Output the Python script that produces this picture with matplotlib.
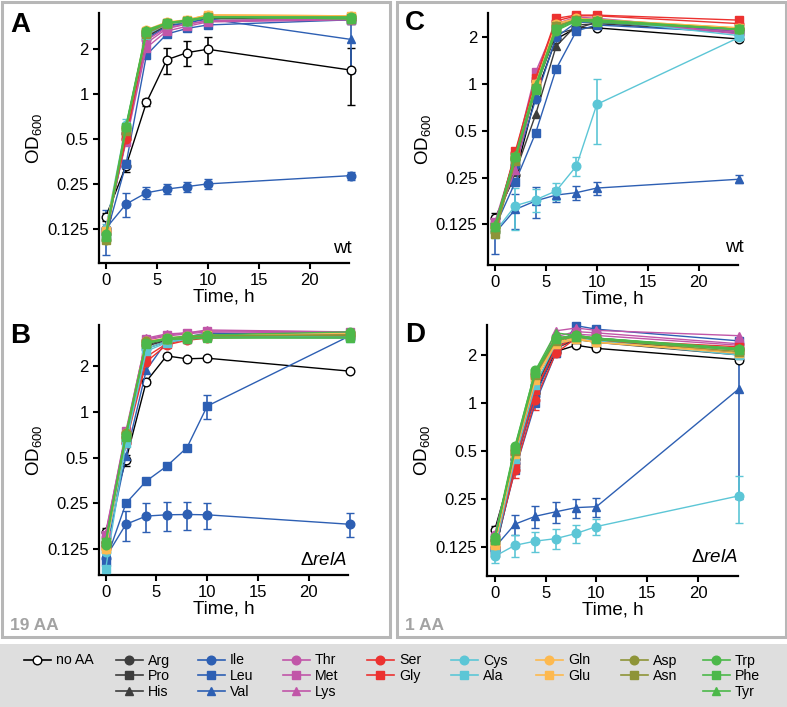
import matplotlib
matplotlib.use("Agg")
import matplotlib.pyplot as plt
from matplotlib.lines import Line2D
from matplotlib.patches import Rectangle
import matplotlib.ticker as mticker

plt.rcParams['font.family'] = ['Liberation Sans', 'DejaVu Sans']
plt.rcParams['mathtext.fontset'] = 'custom'
plt.rcParams['mathtext.rm'] = 'Liberation Sans'
plt.rcParams['mathtext.it'] = 'Liberation Sans:italic'
plt.rcParams['mathtext.bf'] = 'Liberation Sans:bold'

# ---------------- data ----------------
times = [0, 2, 4, 6, 8, 10, 24]
series_names = ["no AA", "Arg", "Pro", "His", "Ile", "Leu", "Val", "Thr", "Met", "Lys",
                "Ser", "Gly", "Cys", "Ala", "Gln", "Glu", "Asp", "Asn", "Trp", "Phe", "Tyr"]
yticks = [0.125, 0.25, 0.5, 1, 2]
ytick_labels = ["0.125", "0.25", "0.5", "1", "2"]
xticks = [0, 5, 10, 15, 20]

# Panel A: wt, 19 AA
A_values = {
    "no AA": [0.15, 0.33, 0.88, 1.70, 1.90, 2.00, 1.45],
    "Arg": [0.12, 0.55, 2.55, 2.95, 3.05, 3.25, 3.20],
    "Pro": [0.12, 0.52, 2.45, 2.90, 3.05, 3.20, 3.20],
    "His": [0.12, 0.50, 2.40, 2.90, 3.05, 3.25, 3.15],
    "Ile": [0.125, 0.183, 0.218, 0.231, 0.24, 0.25, 0.284],
    "Leu": [0.11, 0.34, 1.83, 2.53, 2.76, 2.91, 3.15],
    "Val": [0.115, 0.50, 2.35, 2.85, 3.0, 3.2, 2.33],
    "Thr": [0.12, 0.55, 2.3, 2.8, 2.95, 3.1, 3.2],
    "Met": [0.12, 0.48, 2.05, 2.65, 2.85, 3.05, 3.15],
    "Lys": [0.12, 0.50, 2.2, 2.75, 2.95, 3.1, 3.2],
    "Ser": [0.125, 0.50, 2.5, 2.95, 3.1, 3.35, 3.3],
    "Gly": [0.12, 0.52, 2.6, 3.0, 3.1, 3.35, 3.3],
    "Cys": [0.125, 0.62, 2.55, 2.95, 3.1, 3.35, 3.25],
    "Ala": [0.12, 0.58, 2.5, 2.95, 3.05, 3.3, 3.2],
    "Gln": [0.12, 0.60, 2.7, 3.05, 3.15, 3.4, 3.35],
    "Glu": [0.12, 0.58, 2.65, 3.0, 3.15, 3.4, 3.35],
    "Asp": [0.105, 0.58, 2.6, 3.0, 3.1, 3.3, 3.2],
    "Asn": [0.105, 0.57, 2.55, 2.95, 3.1, 3.3, 3.2],
    "Trp": [0.115, 0.60, 2.65, 3.0, 3.1, 3.3, 3.3],
    "Phe": [0.11, 0.60, 2.6, 3.0, 3.1, 3.25, 3.25],
    "Tyr": [0.115, 0.62, 2.7, 3.0, 3.15, 3.3, 3.2],
}
A_errors = {
    "no AA": [0.01, 0.03, 0.05, 0.34, 0.36, 0.41, 0.60],
    "Ile": [0.042, 0.034, 0.02, 0.017, 0.018, 0.02, 0.018],
    "Val": [0.01, 0.02, 0.05, 0.05, 0.05, 0.05, 0.95],
    "Cys": [0.01, 0.06, 0.05, 0.05, 0.05, 0.05, 0.05],
}

# Panel B: relA, 19 AA
B_values = {
    "no AA": [0.162, 0.48, 1.58, 2.33, 2.23, 2.25, 1.85],
    "Arg": [0.14, 0.68, 2.75, 3.0, 3.1, 3.25, 3.2],
    "Pro": [0.13, 0.65, 2.7, 2.95, 3.1, 3.2, 3.15],
    "His": [0.13, 0.62, 2.6, 2.9, 3.05, 3.15, 3.1],
    "Ile": [0.11, 0.182, 0.206, 0.21, 0.211, 0.21, 0.182],
    "Leu": [0.103, 0.25, 0.35, 0.438, 0.58, 1.09, 3.15],
    "Val": [0.115, 0.51, 1.88, 2.9, 3.1, 3.3, 3.15],
    "Thr": [0.15, 0.72, 2.95, 3.15, 3.25, 3.35, 3.3],
    "Met": [0.155, 0.75, 3.0, 3.2, 3.3, 3.4, 3.35],
    "Lys": [0.16, 0.72, 3.05, 3.25, 3.3, 3.45, 3.35],
    "Ser": [0.13, 0.62, 2.13, 2.75, 2.95, 3.05, 3.15],
    "Gly": [0.13, 0.65, 2.3, 2.8, 3.0, 3.1, 3.2],
    "Cys": [0.12, 0.65, 2.6, 2.9, 3.05, 3.15, 3.1],
    "Ala": [0.092, 0.62, 2.5, 2.85, 3.0, 3.1, 3.05],
    "Gln": [0.125, 0.72, 2.9, 3.05, 3.15, 3.2, 3.25],
    "Glu": [0.125, 0.70, 2.85, 3.0, 3.1, 3.2, 3.25],
    "Asp": [0.14, 0.72, 2.9, 3.0, 3.1, 3.15, 3.2],
    "Asn": [0.14, 0.70, 2.85, 3.0, 3.05, 3.15, 3.2],
    "Trp": [0.132, 0.70, 2.85, 3.05, 3.15, 3.2, 3.35],
    "Phe": [0.14, 0.68, 2.8, 3.0, 3.05, 3.1, 3.1],
    "Tyr": [0.14, 0.72, 2.85, 3.0, 3.0, 3.05, 3.05],
}
B_errors = {
    "no AA": [0.01, 0.04, 0.05, 0.03, 0.03, 0.03, 0.03],
    "Ile": [0.005, 0.04, 0.045, 0.045, 0.045, 0.04, 0.033],
    "Leu": [0.005, 0.01, 0.01, 0.01, 0.02, 0.2, 0.05],
}

# Panel C: wt, 1 AA
C_values = {
    "no AA": [0.137, 0.26, 0.85, 1.95, 2.3, 2.3, 1.95],
    "Arg": [0.125, 0.33, 1.05, 2.3, 2.6, 2.6, 2.25],
    "Pro": [0.125, 0.30, 0.95, 2.1, 2.28, 2.5, 2.2],
    "His": [0.13, 0.27, 0.64, 1.75, 2.4, 2.45, 2.15],
    "Ile": [0.125, 0.30, 0.8, 2.0, 2.5, 2.5, 2.2],
    "Leu": [0.12, 0.235, 0.487, 1.25, 2.2, 2.4, 2.15],
    "Val": [0.11, 0.156, 0.177, 0.193, 0.2, 0.214, 0.244],
    "Thr": [0.125, 0.34, 1.1, 2.4, 2.65, 2.6, 2.1],
    "Met": [0.13, 0.35, 1.2, 2.45, 2.7, 2.65, 2.2],
    "Lys": [0.125, 0.28, 1.0, 2.35, 2.6, 2.55, 2.15],
    "Ser": [0.12, 0.36, 1.05, 2.55, 2.75, 2.75, 2.45],
    "Gly": [0.12, 0.37, 1.1, 2.65, 2.78, 2.78, 2.58],
    "Cys": [0.112, 0.165, 0.18, 0.205, 0.297, 0.74, 2.0],
    "Ala": [0.12, 0.33, 1.0, 2.4, 2.6, 2.6, 2.05],
    "Gln": [0.12, 0.34, 1.0, 2.45, 2.65, 2.6, 2.3],
    "Glu": [0.12, 0.34, 1.0, 2.4, 2.6, 2.6, 2.3],
    "Asp": [0.112, 0.33, 0.95, 2.35, 2.6, 2.55, 2.25],
    "Asn": [0.108, 0.32, 0.95, 2.35, 2.6, 2.55, 2.25],
    "Trp": [0.12, 0.34, 0.95, 2.2, 2.55, 2.55, 2.25],
    "Phe": [0.12, 0.34, 0.92, 2.25, 2.55, 2.5, 2.25],
    "Tyr": [0.125, 0.35, 1.0, 2.3, 2.6, 2.6, 2.25],
}
C_errors = {
    "no AA": [0.01, 0.02, 0.05, 0.05, 0.05, 0.05, 0.05],
    "Val": [0.03, 0.04, 0.04, 0.02, 0.02, 0.02, 0.015],
    "Cys": [0.01, 0.05, 0.03, 0.025, 0.04, 0.33, 0.06],
}

# Panel D: relA, 1 AA
D_values = {
    "no AA": [0.16, 0.45, 1.15, 2.1, 2.3, 2.2, 1.87],
    "Arg": [0.14, 0.48, 1.3, 2.3, 2.55, 2.5, 2.05],
    "Pro": [0.115, 0.40, 1.2, 2.2, 2.5, 2.4, 2.0],
    "His": [0.13, 0.42, 1.25, 2.25, 2.5, 2.45, 2.05],
    "Ile": [0.12, 0.42, 1.1, 2.2, 2.6, 2.55, 2.15],
    "Leu": [0.12, 0.38, 1.0, 2.05, 3.05, 2.9, 2.45],
    "Val": [0.125, 0.175, 0.196, 0.209, 0.222, 0.225, 1.23],
    "Thr": [0.15, 0.50, 1.5, 2.6, 2.8, 2.75, 2.35],
    "Met": [0.14, 0.48, 1.45, 2.5, 2.7, 2.65, 2.3],
    "Lys": [0.14, 0.47, 1.4, 2.83, 2.95, 2.85, 2.64],
    "Ser": [0.125, 0.38, 1.05, 2.05, 2.55, 2.45, 2.2],
    "Gly": [0.13, 0.42, 1.2, 2.2, 2.6, 2.5, 2.25],
    "Cys": [0.11, 0.129, 0.137, 0.142, 0.153, 0.169, 0.263],
    "Ala": [0.12, 0.45, 1.3, 2.35, 2.55, 2.45, 2.0],
    "Gln": [0.13, 0.50, 1.45, 2.4, 2.55, 2.4, 2.1],
    "Glu": [0.13, 0.48, 1.4, 2.35, 2.5, 2.4, 2.05],
    "Asp": [0.14, 0.52, 1.55, 2.5, 2.65, 2.55, 2.15],
    "Asn": [0.14, 0.50, 1.5, 2.45, 2.6, 2.5, 2.1],
    "Trp": [0.145, 0.54, 1.6, 2.57, 2.65, 2.55, 2.18],
    "Phe": [0.14, 0.52, 1.55, 2.5, 2.6, 2.5, 2.15],
    "Tyr": [0.14, 0.53, 1.6, 2.75, 2.65, 2.55, 2.2],
}
D_errors = {
    "no AA": [0.01, 0.03, 0.1, 0.05, 0.05, 0.05, 0.05],
    "Val": [0.01, 0.025, 0.03, 0.03, 0.03, 0.03, 0.98],
    "Ser": [0.005, 0.04, 0.15, 0.12, 0.05, 0.05, 0.05],
    "Cys": [0.01, 0.02, 0.02, 0.02, 0.02, 0.02, 0.085],
}

# ---------------- styles ----------------
C_GRAY = '#3d3d3d'
C_BLUE = '#2d5fb3'
C_MAG = '#c156a8'
C_RED = '#ec3230'
C_CYAN = '#5cc6d6'
C_ORANGE = '#fdb94f'
C_OLIVE = '#8e9438'
C_GREEN = '#4cb84a'
styles = {
    "no AA": ('black', 'o'),
    "Arg": (C_GRAY, 'o'), "Pro": (C_GRAY, 's'), "His": (C_GRAY, '^'),
    "Ile": (C_BLUE, 'o'), "Leu": (C_BLUE, 's'), "Val": (C_BLUE, '^'),
    "Thr": (C_MAG, 'o'), "Met": (C_MAG, 's'), "Lys": (C_MAG, '^'),
    "Ser": (C_RED, 'o'), "Gly": (C_RED, 's'),
    "Cys": (C_CYAN, 'o'), "Ala": (C_CYAN, 's'),
    "Gln": (C_ORANGE, 'o'), "Glu": (C_ORANGE, 's'),
    "Asp": (C_OLIVE, 'o'), "Asn": (C_OLIVE, 's'),
    "Trp": (C_GREEN, 'o'), "Phe": (C_GREEN, 's'), "Tyr": (C_GREEN, '^'),
}
MS = 6.2
LW = 1.0

W, H = 787, 707
fig = plt.figure(figsize=(W / 100, H / 100), dpi=100)


def px_rect(x0, y0, x1, y1):
    return [x0 / W, 1 - y1 / H, (x1 - x0) / W, (y1 - y0) / H]


# background boxes
for (x0, y0, x1, y1) in [(1.5, 1.5, 389.5, 637), (396.5, 1.5, 785.5, 637)]:
    r = px_rect(x0, y0, x1, y1)
    fig.patches.append(Rectangle((r[0], r[1]), r[2], r[3], transform=fig.transFigure,
                                 fill=False, ec='#b7b7b7', lw=2.2, zorder=0))
r = px_rect(0, 644, 787, 707)
fig.patches.append(Rectangle((r[0], r[1]), r[2], r[3], transform=fig.transFigure,
                             fc='#dedede', ec='none', zorder=0))

panels = [
    ("A", A_values, A_errors, (99, 13, 349, 263), (0.0737, 3.5), (-0.65, 23.85), "wt", (1.01, 0.04)),
    ("B", B_values, B_errors, (99, 325, 348, 575), (0.0844, 3.72), (-0.65, 23.85), r"$\Delta\mathit{relA}$", (0.995, 0.04)),
    ("C", C_values, C_errors, (487.7, 13.3, 738.3, 265), (0.0684, 2.855), (-0.72, 23.9), "wt", (1.02, 0.053)),
    ("D", D_values, D_errors, (487.3, 325, 738, 576), (0.0829, 3.08), (-0.72, 23.9), r"$\Delta\mathit{relA}$", (1.0, 0.057)),
]

for letter, vals, errs, box, ylim, xlim, strain, spos in panels:
    ax = fig.add_axes(px_rect(*box))
    ax.set_yscale('log', base=2)
    for name in series_names:
        col, mk = styles[name]
        mfc = 'white' if name == "no AA" else col
        e = errs.get(name)
        ax.errorbar(times, vals[name], yerr=e, color=col, marker=mk, ms=MS,
                    mfc=mfc, mec=col, mew=1.0, lw=LW, elinewidth=1.2,
                    capsize=3.2, capthick=1.2, clip_on=False, zorder=3)
    ax.set_ylim(*ylim)
    ax.set_xlim(*xlim)
    ax.set_yticks(yticks)
    ax.set_yticklabels(ytick_labels)
    ax.yaxis.set_minor_locator(mticker.NullLocator())
    ax.set_xticks(xticks)
    ax.set_xticklabels([str(v) for v in xticks])
    for s in ['top', 'right']:
        ax.spines[s].set_visible(False)
    for s in ['left', 'bottom']:
        ax.spines[s].set_linewidth(1.6)
    ax.tick_params(direction='out', length=4.5, width=1.5, labelsize=12, pad=3)
    ax.set_xlabel("Time, h", fontsize=13.5, labelpad=0)
    ax.set_ylabel(r"$\mathregular{OD_{600}}$", fontsize=13.5, labelpad=2)
    ax.text(spos[0], spos[1], strain, transform=ax.transAxes, ha='right',
            va='baseline', fontsize=13.5)

# panel letters
for letter, x, y in [("A", 10, 32), ("B", 10, 343), ("C", 405, 30.5), ("D", 405, 341.5)]:
    fig.text(x / W, 1 - y / H, letter, fontsize=20, fontweight='bold', ha='left', va='baseline')
for lab, x, y in [("19 AA", 10, 630), ("1 AA", 405, 630)]:
    fig.text(x / W, 1 - y / H, lab, fontsize=12.5, fontweight='bold', color='#a3a3a3',
             ha='left', va='baseline')

# legend columns
legend_cols = [
    (["no AA"], 24),
    (["Arg", "Pro", "His"], 116),
    (["Ile", "Leu", "Val"], 198),
    (["Thr", "Met", "Lys"], 283),
    (["Ser", "Gly"], 367),
    (["Cys", "Ala"], 451),
    (["Gln", "Glu"], 536),
    (["Asp", "Asn"], 621),
    (["Trp", "Phe", "Tyr"], 703),
]
for names, x in legend_cols:
    handles = []
    for name in names:
        col, mk = styles[name]
        mfc = 'white' if name == "no AA" else col
        handles.append(Line2D([], [], color=col, marker=mk, ms=6.2, mfc=mfc, mec=col, lw=1.2))
    fig.legend(handles, names, loc='upper left', bbox_to_anchor=(x / W, 1 - 653.5 / H),
               frameon=False, fontsize=10.2, handlelength=1.9, handletextpad=0.35,
               labelspacing=0.12, borderpad=0, borderaxespad=0)

fig.savefig("out.png", dpi=100)
